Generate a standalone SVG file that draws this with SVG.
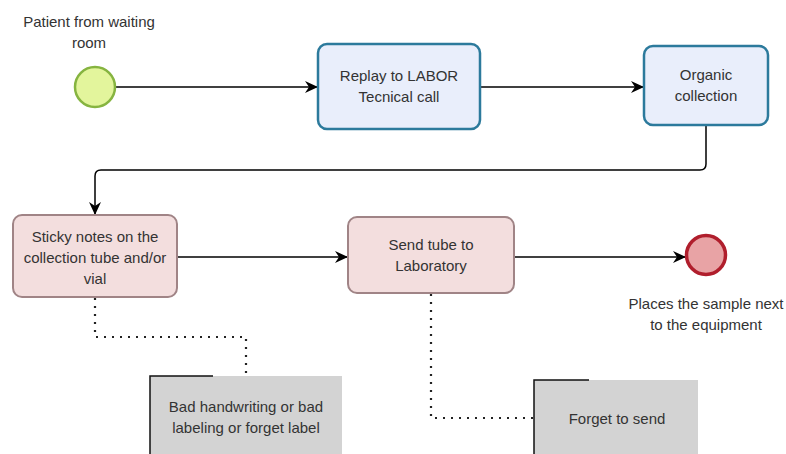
<svg xmlns="http://www.w3.org/2000/svg" width="786" height="454" viewBox="0 0 786 454">
<defs>
<marker id="arr" markerWidth="14" markerHeight="12" refX="12" refY="6" orient="auto" markerUnits="userSpaceOnUse">
<path d="M0,0 L13,6 L0,12 L4,6 Z" fill="#000"/>
</marker>
<style>
text{font-family:"Liberation Sans",Arial,sans-serif;font-size:15px;fill:#333;text-anchor:middle}
.blue{fill:#e9eefb;stroke:#2c7a9c;stroke-width:2.5}
.pink{fill:#f3dede;stroke:#a08486;stroke-width:2}
.flow{fill:none;stroke:#000;stroke-width:1.5}
.dot{fill:none;stroke:#222;stroke-width:2.2;stroke-dasharray:2 6}
.ann{fill:#d3d3d3;stroke:none}
.br{fill:none;stroke:#111;stroke-width:1.5}
</style>
</defs>
<rect width="786" height="454" fill="#fff"/>
<g id="connectors">
<path class="flow" d="M116,87 H317" marker-end="url(#arr)"/>
<path class="flow" d="M480,87 H643" marker-end="url(#arr)"/>
<path class="flow" d="M706,125 V164 Q706,170 700,170 H101 Q95,170 95,176 V214" marker-end="url(#arr)"/>
<path class="flow" d="M177,257 H347" marker-end="url(#arr)"/>
<path class="flow" d="M514,257 H685" marker-end="url(#arr)"/>
<path class="dot" d="M95,298 V337 H246 V376"/>
<path class="dot" d="M431,294 V418 H534"/>
</g>
<g id="start">
<circle cx="95" cy="87" r="20" fill="#e3f59c" stroke="#86b440" stroke-width="2.5"/>
<text x="89" y="27">Patient from waiting</text>
<text x="89" y="48">room</text>
</g>
<g id="replay">
<rect class="blue" x="318" y="44" width="162" height="85" rx="9"/>
<text x="399" y="81">Replay to LABOR</text>
<text x="399" y="102">Tecnical call</text>
</g>
<g id="organic">
<rect class="blue" x="644" y="46" width="124" height="79" rx="9"/>
<text x="706" y="80">Organic</text>
<text x="706" y="101">collection</text>
</g>
<g id="sticky">
<rect class="pink" x="13" y="215" width="164" height="82" rx="9"/>
<text x="95" y="242">Sticky notes on the</text>
<text x="95" y="263">collection tube and/or</text>
<text x="95" y="284">vial</text>
</g>
<g id="send">
<rect class="pink" x="348" y="217" width="166" height="76" rx="9"/>
<text x="431" y="250">Send tube to</text>
<text x="431" y="271">Laboratory</text>
</g>
<g id="end">
<circle cx="706" cy="255" r="19.5" fill="#e8a3a5" stroke="#b01e2c" stroke-width="3.5"/>
<text x="706" y="309">Places the sample next</text>
<text x="706" y="330">to the equipment</text>
</g>
<g id="ann1">
<rect class="ann" x="150" y="376" width="192" height="78"/>
<path class="br" d="M213,376 H150 V454"/>
<text x="246" y="412">Bad handwriting or bad</text>
<text x="246" y="433">labeling or forget label</text>
</g>
<g id="ann2">
<rect class="ann" x="534" y="380" width="164" height="74"/>
<path class="br" d="M589,380 H534 V454"/>
<text x="617" y="424">Forget to send</text>
</g>
</svg>
